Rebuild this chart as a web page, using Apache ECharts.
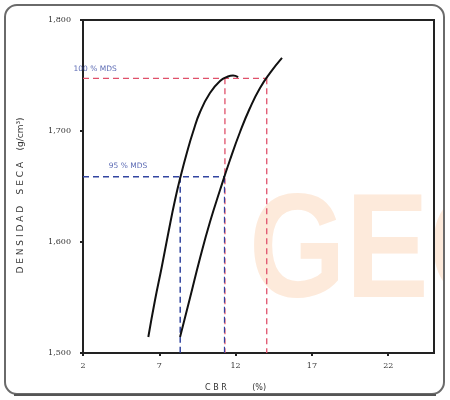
<!DOCTYPE html>
<html><head><meta charset="utf-8">
<script src="https://cdn.jsdelivr.net/npm/echarts@6/dist/echarts.min.js"></script>
<style>html,body{margin:0;padding:0;background:#fff}#c{width:450px;height:400px}</style>
</head><body><div id="c"></div>
<script>
// Data
const xTicks = [2, 7, 12, 17, 22];
const yTicks = [1500, 1600, 1700, 1800];
// Left curve (CBR %, dry density)
const curveA_x = [6.28, 6.72, 7.16, 7.59, 8.03, 8.42, 8.82, 9.21, 9.67, 10.32, 10.98, 11.50, 11.83, 12.16];
const curveA_y = [1514.4, 1547.7, 1577.5, 1608.1, 1637.8, 1660.4, 1681.1, 1699.1, 1717.1, 1734.2, 1745.0, 1749.1, 1750.0, 1748.6];
// Right curve
const curveB_x = [8.36, 9.01, 9.67, 10.32, 10.98, 11.63, 12.29, 12.94, 13.60, 14.26, 15.04];
const curveB_y = [1514.4, 1549.5, 1585.6, 1618.0, 1646.8, 1673.9, 1699.1, 1720.7, 1738.7, 1752.3, 1765.8];
const mds100 = 1747.5;
const mds95 = 1658.8;
const cbr95 = [8.37, 11.27];
const cbr100 = [11.30, 14.04];
const labels = ['100 % MDS', '95 % MDS'];

const zip = (a, b) => a.map((v, i) => [v, b[i]]);
const red = '#e0506a', blue = '#3245a0';

const chart = echarts.init(document.getElementById('c'));
chart.setOption({
  animation: false,
  backgroundColor: '#fff',
  graphic: [
    { type: 'text', z: -5, x: 249, y: 182, scaleX: 0.84,
      style: { text: 'GEO', font: 'bold 148px "Liberation Sans"', fill: '#fdeadb' } },
    { type: 'rect', z: -4, shape: { x: 445, y: 0, width: 10, height: 400 }, style: { fill: '#fff' } },
    { type: 'rect', z: 10, shape: { x: 5, y: 5, width: 439, height: 389, r: 12 },
      style: { fill: 'none', stroke: '#6a6a6a', lineWidth: 2 } },
    { type: 'line', z: 10, shape: { x1: 14, y1: 395, x2: 436, y2: 395 },
      style: { stroke: '#555', lineWidth: 2 } }
  ],
  grid: { left: 83, right: 16, top: 20, bottom: 47, show: true, borderColor: '#222', borderWidth: 2, backgroundColor: 'transparent' },
  xAxis: {
    type: 'value', min: 2, max: 25,
    name: 'C B R          (%)', nameLocation: 'middle', nameGap: 31,
    nameTextStyle: { fontSize: 8, color: '#333', fontFamily: 'DejaVu Sans', padding: [0, 46, 0, 0] },
    axisLine: { lineStyle: { color: '#222', width: 2 } },
    axisTick: { show: true, length: 3, customValues: xTicks, lineStyle: { color: '#222', width: 2 } },
    axisLabel: { customValues: xTicks, fontSize: 8, color: '#333', margin: 9, fontFamily: 'DejaVu Serif' },
    splitLine: { show: false }
  },
  yAxis: {
    type: 'value', min: 1500, max: 1800, interval: 100,
    name: 'D E N S I D A D    S E C A    (g/cm³)', nameLocation: 'middle', nameGap: 58,
    nameTextStyle: { fontSize: 9, color: '#333', fontFamily: 'DejaVu Sans', padding: [0, 18, 0, 0] },
    axisLine: { show: true, lineStyle: { color: '#222', width: 2 } },
    axisTick: { show: true, length: 3, lineStyle: { color: '#222', width: 2 } },
    axisLabel: { fontSize: 8, color: '#333', margin: 12, fontFamily: 'DejaVu Serif',
      formatter: v => yTicks.includes(v) ? v.toLocaleString('en-US') : '' },
    splitLine: { show: false }
  },
  series: [
    { type: 'line', data: [[2, mds100], [cbr100[1], mds100]], symbol: 'none', z: 1,
      lineStyle: { color: red, width: 1.3, type: [6, 4] } },
    { type: 'line', data: [[cbr100[0], mds100], [cbr100[0], 1500]], symbol: 'none', z: 1,
      lineStyle: { color: red, width: 1.3, type: [6, 4] } },
    { type: 'line', data: [[cbr100[1], mds100], [cbr100[1], 1500]], symbol: 'none', z: 1,
      lineStyle: { color: red, width: 1.3, type: [6, 4] } },
    { type: 'line', data: [[2, mds95], [cbr95[1], mds95]], symbol: 'none', z: 1,
      lineStyle: { color: blue, width: 1.5, type: [6, 4] } },
    { type: 'line', data: [[cbr95[0], mds95], [cbr95[0], 1500]], symbol: 'none', z: 1,
      lineStyle: { color: blue, width: 1.5, type: [6, 4] } },
    { type: 'line', data: [[cbr95[1], mds95], [cbr95[1], 1500]], symbol: 'none', z: 1,
      lineStyle: { color: blue, width: 1.2, type: [6, 4] } },
    { type: 'line', data: zip(curveA_x, curveA_y), smooth: 0.5, symbol: 'none', z: 3,
      lineStyle: { color: '#111', width: 2 } },
    { type: 'line', data: zip(curveB_x, curveB_y), smooth: 0.5, symbol: 'none', z: 3,
      lineStyle: { color: '#111', width: 2 } },
    { type: 'scatter', data: [[2.79, 1756], [4.95, 1668]], symbolSize: 0, silent: true, z: 5,
      label: { show: true, position: 'inside', color: blue, fontSize: 7.5, fontFamily: 'DejaVu Sans',
        formatter: p => labels[p.dataIndex] } }
  ]
});
</script></body></html>
